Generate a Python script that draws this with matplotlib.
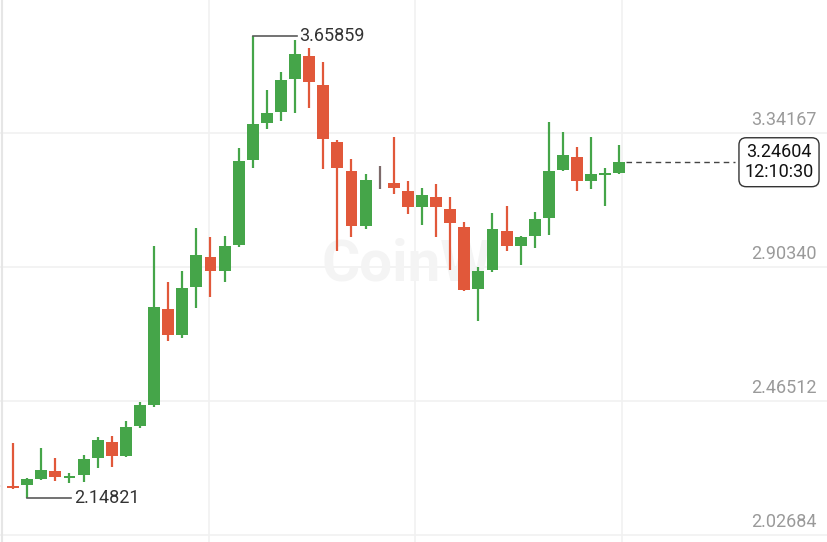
import matplotlib.pyplot as plt
import numpy as np

# OHLC values (one entry per candle, left to right)
opens = [2.187, 2.187, 2.190, 2.210, 2.236, 2.213, 2.223, 2.279, 2.331, 2.285,
         2.383, 2.452, 2.766, 2.681, 2.838, 2.936, 2.890, 2.975, 3.253, 3.374,
         3.410, 3.518, 3.594, 3.499, 3.312, 3.217, 3.037, 3.175, 3.178, 3.152,
         3.100, 3.132, 3.093, 3.034, 2.831, 2.894, 3.021, 2.972, 3.005, 3.064,
         3.221, 3.263, 3.185, 3.204, 3.211]
highs = [2.189, 2.328, 2.213, 2.311, 2.279, 2.229, 2.288, 2.347, 2.351, 2.400,
         2.462, 2.972, 2.854, 2.890, 3.031, 3.001, 3.005, 3.293, 3.65859, 3.482,
         3.541, 3.646, 3.620, 3.574, 3.319, 3.257, 3.208, 3.234, 3.329, 3.185,
         3.162, 3.175, 3.132, 3.051, 2.903, 3.080, 3.103, 3.005, 3.083, 3.378,
         3.345, 3.296, 3.329, 3.227, 3.302]
lows = [2.185, 2.177, 2.14821, 2.208, 2.203, 2.197, 2.200, 2.246, 2.249, 2.282,
        2.377, 2.445, 2.661, 2.671, 2.769, 2.805, 2.854, 2.969, 3.227, 3.355,
        3.381, 3.407, 3.423, 3.224, 2.956, 3.001, 3.028, 3.158, 3.142, 3.077,
        3.041, 3.001, 2.894, 2.825, 2.727, 2.887, 2.956, 2.910, 2.965, 3.008,
        3.217, 3.152, 3.158, 3.103, 3.208]
closes = [2.187, 2.180, 2.210, 2.239, 2.216, 2.220, 2.275, 2.337, 2.285, 2.380,
          2.452, 2.772, 2.681, 2.835, 2.943, 2.890, 2.972, 3.250, 3.371, 3.407,
          3.515, 3.600, 3.509, 3.322, 3.227, 3.037, 3.188, 3.175, 3.162, 3.100,
          3.139, 3.100, 3.047, 2.828, 2.890, 3.028, 2.972, 3.001, 3.060, 3.217,
          3.270, 3.185, 3.208, 3.211, 3.24604]

price_ticks = [3.34167, 2.90340, 2.46512, 2.02684]
max_label = "3.65859"
min_label = "2.14821"
last_price = "3.24604"
countdown = "12:10:30"

GREEN = '#45a549'
RED = '#e1583a'
GRAY = '#7d6a6a'

fig = plt.figure(figsize=(8.28, 5.42), dpi=100)
ax = fig.add_axes([0, 0, 1, 1])
plt.rcParams['font.family'] = ['Roboto', 'DejaVu Sans']

# pixel mapping: 14.1 px per candle, 305.7 px per price unit
xs = np.arange(len(opens))
ax.set_xlim(1 / 14.1, 829 / 14.1)
ax.set_ylim(3.7767 - 542 / 305.7, 3.7767)

# grid
for v in price_ticks:
    ax.axhline(v, color='#f1f1f1', lw=1.2, zorder=0)
for gx in [0.2, 14.9, 29.5, 44.2]:
    ax.axvline(gx, color='#f1f1f1', lw=1.2, zorder=0)
ax.axvline(0.2, color='#e6e6e6', lw=1.5, zorder=0)

# watermark
ax.text(28.9, 2.91, 'CoinW', fontsize=42, fontweight='bold', color='#f4f4f4',
        ha='center', va='center', zorder=0)

# candles
o = np.array(opens); c = np.array(closes)
colors = []
for a, b in zip(opens, closes):
    if b > a:
        colors.append(GREEN)
    elif b < a:
        colors.append(RED)
    else:
        colors.append(GRAY)
ax.vlines(xs, lows, highs, colors=colors, lw=1.6, zorder=2)
heights = np.maximum(np.abs(c - o), 0.006)
bottoms = np.minimum(o, c)
bottoms = np.where(np.abs(c - o) < 0.006, (o + c) / 2 - 0.003, bottoms)
body_colors = ['none' if col == GRAY else col for col in colors]
ax.bar(xs, heights, bottom=bottoms, width=0.84, color=body_colors, zorder=3)

# max / min markers
imax = int(np.argmax(highs))
imin = int(np.argmin(lows))
ax.plot([imax, imax + 3.1], [highs[imax]] * 2, color='#5a5a5a', lw=1.2, zorder=2)
ax.text(imax + 3.3, highs[imax], max_label, fontsize=13, color='#333333',
        va='center', ha='left')
ax.plot([imin, imin + 3.1], [lows[imin]] * 2, color='#5a5a5a', lw=1.2, zorder=2)
ax.text(imin + 3.3, lows[imin], min_label, fontsize=13, color='#333333',
        va='center', ha='left')

# price axis labels on the right
for v in price_ticks:
    ax.text(818 / 14.1, v + 0.012, f"{v:.5f}", fontsize=13, color='#9a9a9a',
            ha='right', va='bottom')

# last price line and box
ax.plot([xs[-1] + 0.5, 736 / 14.1], [closes[-1]] * 2, color='#444444', lw=1,
        ls=(0, (4, 3)), zorder=2)
ax.text(780 / 14.1, closes[-1], last_price + "\n" + countdown, fontsize=13,
        color='#111111', ha='center', va='center', linespacing=1.15,
        bbox=dict(boxstyle='round,pad=0.3,rounding_size=0.4', fc='white',
                  ec='#333333', lw=1))

ax.axis('off')
fig.savefig('out.png', dpi=100)
